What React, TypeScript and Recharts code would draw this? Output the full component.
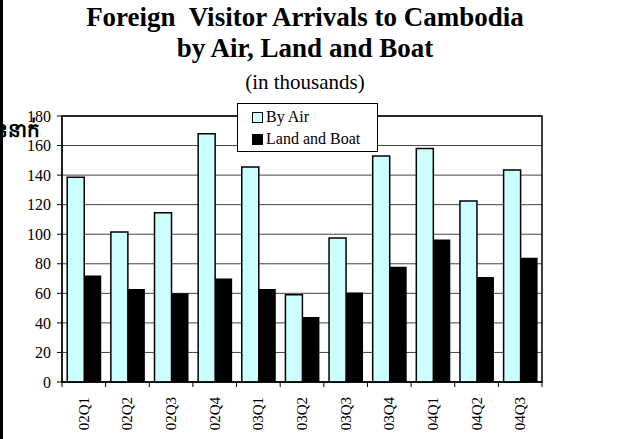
import React from 'react'
import {
  BarChart,
  Bar,
  XAxis,
  YAxis,
  CartesianGrid,
  ReferenceArea,
} from 'recharts'

const quarters = ['02Q1', '02Q2', '02Q3', '02Q4', '03Q1', '03Q2', '03Q3', '03Q4', '04Q1', '04Q2', '04Q3']
const byAir = [138.5, 101.5, 114.5, 168, 145.5, 59, 97.5, 153, 158, 122.5, 143.5]
const landAndBoat = [72, 63, 60, 70, 63, 44, 60.5, 78, 96.5, 71, 84]
const yTicks = [0, 20, 40, 60, 80, 100, 120, 140, 160, 180]

const data = quarters.map((q, i) => ({ name: q, air: byAir[i], land: landAndBoat[i] }))

const serif = '"Liberation Serif", "Times New Roman", serif'

// tick marks sit between categories, labels are rotated
function QuarterTick(props: any) {
  const { x, y, payload, index, visibleTicksCount, width } = props
  const band = width / visibleTicksCount
  const last = index === visibleTicksCount - 1
  return (
    <g>
      <line x1={x - band / 2} x2={x - band / 2} y1={y} y2={y + 5} stroke="#000" />
      {last && <line x1={x + band / 2} x2={x + band / 2} y1={y} y2={y + 5} stroke="#000" />}
      <text
        x={x + 5}
        y={y + 15}
        transform={`rotate(-90 ${x + 5} ${y + 15})`}
        textAnchor="end"
        fontSize={15}
        fontFamily={serif}
        fill="#000"
      >
        {payload.value}
      </text>
    </g>
  )
}

function LegendBox() {
  const rows = [
    { label: 'By Air', fill: '#CCFFFF' },
    { label: 'Land and Boat', fill: '#000' },
  ]
  return (
    <div
      style={{
        position: 'absolute',
        left: 237,
        top: 103,
        width: 141,
        height: 49,
        boxSizing: 'border-box',
        border: '1px solid #000',
        background: '#fff',
        fontFamily: serif,
        fontSize: 16,
        padding: '2px 0 0 14px',
      }}
    >
      {rows.map((r) => (
        <div key={r.label} style={{ display: 'flex', alignItems: 'center', height: 22 }}>
          <span
            style={{
              display: 'inline-block',
              width: 11,
              height: 11,
              boxSizing: 'border-box',
              border: '1px solid #000',
              background: r.fill,
              marginRight: 3,
            }}
          />
          {r.label}
        </div>
      ))}
    </div>
  )
}

export default function App() {
  return (
    <div style={{ position: 'absolute', left: 0, top: 0, width: 636, height: 439, background: '#fff', fontFamily: serif }}>
      <div style={{ position: 'absolute', left: 0, top: 0, width: 3, height: 439, background: '#000' }} />
      <div
        style={{
          position: 'absolute',
          left: 0,
          top: 2,
          width: 610,
          textAlign: 'center',
          fontWeight: 'bold',
          fontSize: 27,
          lineHeight: '31px',
        }}
      >
        Foreign&nbsp; Visitor Arrivals to Cambodia
        <br />
        by Air, Land and Boat
      </div>
      <div style={{ position: 'absolute', left: 0, top: 70, width: 610, textAlign: 'center', fontSize: 21 }}>
        (in thousands)
      </div>
      <div
        style={{
          position: 'absolute',
          right: 596,
          top: 117,
          fontSize: 20,
          fontWeight: 'bold',
          whiteSpace: 'nowrap',
        }}
      >
        ពាន់នាក់
      </div>
      <BarChart
        width={636}
        height={439}
        data={data}
        margin={{ top: 116, right: 94, bottom: 0, left: 0 }}
        barCategoryGap="12%"
        barGap={0}
      >
        <CartesianGrid vertical={false} stroke="#444" />
        <ReferenceArea y1={0} y2={180} fill="none" stroke="#000" strokeWidth={1.5} ifOverflow="visible" />
        <XAxis
          dataKey="name"
          height={57}
          interval={0}
          tickLine={false}
          tickSize={0}
          tickMargin={0}
          axisLine={{ stroke: '#000' }}
          tick={<QuarterTick />}
        />
        <YAxis
          width={62}
          domain={[0, 180]}
          ticks={yTicks}
          interval={0}
          tickSize={5}
          tickMargin={6}
          tickLine={{ stroke: '#000' }}
          axisLine={{ stroke: '#000' }}
          tick={{ fontSize: 16, fill: '#000', fontFamily: serif }}
        />
        <Bar dataKey="air" name="By Air" fill="#CCFFFF" stroke="#000" strokeWidth={1.5} isAnimationActive={false} />
        <Bar dataKey="land" name="Land and Boat" fill="#000" isAnimationActive={false} />
      </BarChart>
      <LegendBox />
    </div>
  )
}
